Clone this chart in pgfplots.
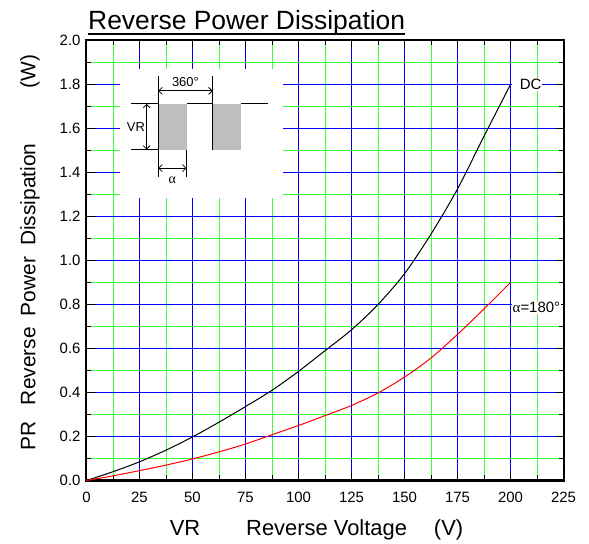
\documentclass[border=0pt]{standalone}
\usepackage{fontspec}
\setmainfont{Liberation Sans}
\newfontfamily\greekserif{Liberation Serif}
\usepackage{pgfplots}
\pgfplotsset{compat=1.18}
\usetikzlibrary{arrows.meta}
\definecolor{gridblue}{RGB}{0,0,255}
\definecolor{gridgreen}{RGB}{60,255,60}
\definecolor{pulsegray}{RGB}{190,190,190}

\begin{document}
\begin{tikzpicture}
% 477 x 440 keeps the grid lines on whole pixels;
% minor x ticks sit half a pixel (0.2358 units) right of 12.5, 37.5, ... for the same reason
\begin{axis}[
    scale only axis,
    width=477bp, height=440bp,
    xmin=0, xmax=225, ymin=0, ymax=2,
    xtick={0,25,50,75,100,125,150,175,200,225},
    minor xtick={12.7358,37.7358,62.7358,87.7358,112.7358,137.7358,162.7358,187.7358,212.7358},
    ytick={0,0.2,0.4,0.6,0.8,1.0,1.2,1.4,1.6,1.8,2.0},
    minor y tick num=1,
    grid=both,
    tick style={black, line width=1.5bp},
    major grid style={draw=gridblue, line width=1bp},
    minor grid style={draw=gridgreen, line width=1bp},
    tick align=inside,
    major tick length=8bp, minor tick length=5bp,
    axis line style={black, line width=2bp},
    /pgf/number format/assume math mode=true,
    ticklabel style={font=\fontsize{15}{15}\selectfont},
    yticklabel style={/pgf/number format/.cd, fixed, fixed zerofill, precision=1, /tikz/.cd, xshift=-2.5bp},
    xticklabel style={yshift=-8.5bp},
    clip=false,
]
\coordinate (O) at (axis cs:0,0);

% inset: waveform sketch on a white patch
\fill[white] (axis cs:15.8,1.284) rectangle (axis cs:92.6,1.871);
\fill[pulsegray] (axis cs:33.8,1.504) rectangle (axis cs:47.2,1.712);
\fill[pulsegray] (axis cs:59.5,1.504) rectangle (axis cs:72.7,1.712);
\begin{scope}[line width=0.8bp, black]
  \draw (axis cs:20.8,1.712) -- (axis cs:33.8,1.712);
  \draw (axis cs:47.2,1.712) -- (axis cs:59.5,1.712);
  \draw (axis cs:72.7,1.712) -- (axis cs:85.7,1.712);
  \draw (axis cs:33.8,1.838) -- (axis cs:33.8,1.38);
  \draw (axis cs:59.5,1.838) -- (axis cs:59.5,1.504);
  \draw (axis cs:20.8,1.504) -- (axis cs:33.8,1.504);
  \draw (axis cs:47.2,1.504) -- (axis cs:47.2,1.38);
  \draw[{Straight Barb[length=3.5bp]}-{Straight Barb[length=3.5bp]}] (axis cs:28.4,1.712) -- (axis cs:28.4,1.504);
  \draw[{Straight Barb[length=3.5bp]}-{Straight Barb[length=3.5bp]}] (axis cs:33.8,1.771) -- (axis cs:59.5,1.771);
  \draw[{Straight Barb[length=3.5bp]}-{Straight Barb[length=3.5bp]}] (axis cs:33.8,1.42) -- (axis cs:47.2,1.42);
\end{scope}
\node[anchor=east, inner sep=0.5bp, font=\fontsize{13}{13}\selectfont] at (axis cs:27.9,1.605) {VR};
\node[anchor=base, inner sep=0bp, font=\fontsize{13}{13}\selectfont] at (axis cs:46.65,1.79) {360°};
\node[anchor=north, inner sep=1bp, font=\fontsize{14}{14}\greekserif] at (axis cs:40.5,1.385) {α};

% DC
\addplot[black, line width=1bp, smooth] coordinates {
  (0,0) (12.5,0.04) (25,0.085) (37.5,0.138) (50,0.198) (62.5,0.265)
  (75,0.336) (87.5,0.41) (100,0.496) (112.5,0.59) (125,0.685)
  (137.5,0.8) (150,0.94) (162.5,1.12) (175,1.325) (187.5,1.565) (200,1.8)
};
% alpha = 180 deg
\addplot[red, line width=1bp, smooth] coordinates {
  (0,0) (12.5,0.021) (25,0.045) (37.5,0.07) (50,0.098) (62.5,0.13)
  (75,0.166) (87.5,0.208) (100,0.25) (112.5,0.295) (125,0.341)
  (137.5,0.398) (150,0.47) (162.5,0.557) (175,0.664) (187.5,0.78) (200,0.9)
};

\node[anchor=west, fill=white, inner sep=1bp, font=\fontsize{15}{15}\selectfont] at (axis cs:200.5,1.8) {\hspace{7bp}DC};
\node[anchor=west, fill=white, inner sep=0.5bp, font=\fontsize{15}{15}\selectfont] at (axis cs:200.7,0.785) {{\greekserif α}=180°};
\end{axis}

\path (O) ++(-86.5bp,-63.5bp) rectangle ++(589bp,544bp);
\node[anchor=base west, inner sep=0, font=\fontsize{26.5}{26.5}\selectfont] (T) at ([shift={(1.5bp,451bp)}]O) {Reverse Power Dissipation};
\draw[line width=1.5bp] ([yshift=-4.5bp]T.base west) -- ([yshift=-4.5bp]T.base east);
\node[anchor=base, inner sep=0, font=\fontsize{22}{22}\selectfont] at ([shift={(230bp,-54.5bp)}]O) {VR\hspace{46bp}Reverse Voltage\hspace{27bp}(V)};
\node[rotate=90, anchor=center, inner sep=0, font=\fontsize{21}{21}\selectfont] at ([shift={(-56.5bp,228bp)}]O) {PR\hspace{16bp}Reverse\hspace{11bp}Power\hspace{11bp}Dissipation\hspace{55bp}(W)};
\end{tikzpicture}
\end{document}
